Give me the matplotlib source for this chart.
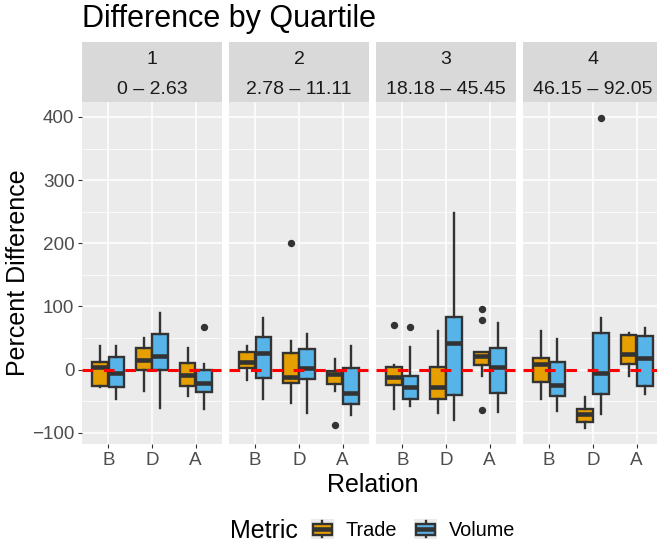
import matplotlib
matplotlib.use("Agg")
import matplotlib.pyplot as plt
from matplotlib.patches import Rectangle, Patch
from matplotlib.lines import Line2D
from matplotlib.legend_handler import HandlerBase

plt.rcParams['font.family'] = ['Liberation Sans', 'DejaVu Sans']

# ---------------- data ----------------
categories = ["B", "D", "A"]
quartiles = ["1", "2", "3", "4"]
quartile_ranges = ["0 – 2.63", "2.78 – 11.11", "18.18 – 45.45", "46.15 – 92.05"]
metrics = ["Trade", "Volume"]

# per quartile -> per category (B, D, A)
trade_whislo = [[-28, -34, -41], [-16, -52, -34], [-63, -68, -10], [-46, -93, -10]]
trade_q1     = [[-26, 0, -26],   [3, -21, -22],   [-24, -46, 8],   [-20, -82, 9]]
trade_med    = [[5, 15, -9],     [12, -11, -7],   [-12, -27, 22],  [9, -70, 25]]
trade_q3     = [[12, 35, 11],    [28, 27, -2],    [5, 5, 28],      [18, -63, 55]]
trade_whishi = [[37, 50, 34],    [38, 45, 17],    [8, 62, 28],     [61, -44, 58]]
trade_out    = [[[], [], []], [[], [200], [-87]], [[70], [], [96, 79, -64]], [[], [], []]]

volume_whislo = [[-47, -61, -62], [-46, -69, -71], [-58, -79, -67], [-65, -70, -38]]
volume_q1     = [[-27, 0, -35],   [-13, -14, -54], [-47, -40, -37], [-42, -39, -26]]
volume_med    = [[-5, 21, -21],   [26, 3, -37],    [-27, 43, 5],    [-25, -5, 19]]
volume_q3     = [[20, 57, 0],     [51, 32, 3],     [-10, 84, 34],   [12, 58, 53]]
volume_whishi = [[38, 90, 9],     [81, 56, 37],    [36, 248, 74],   [49, 81, 66]]
volume_out    = [[[], [], [67]], [[], [], []], [[67], [], []], [[], [399], []]]

# ---------------- style ----------------
colors = {"Trade": "#E69F00", "Volume": "#56B4E9"}
DARK = "#333333"
PANEL_BG = "#EBEBEB"
STRIP_BG = "#D9D9D9"
TICK_COL = "#4D4D4D"
BOX_LW = 1.7
MED_LW = 3.3

W, H = 657, 544
fig = plt.figure(figsize=(W / 100, H / 100), dpi=100)


def frect(x0, y0, x1, y1):
    return [x0 / W, 1 - y1 / H, (x1 - x0) / W, (y1 - y0) / H]


# y limits with 5% expansion (ggplot style)
allv = []
for arrs in (trade_whislo, trade_whishi, volume_whislo, volume_whishi):
    for row in arrs:
        allv += row
for outs in (trade_out, volume_out):
    for row in outs:
        for o in row:
            allv += o
lo, hi = min(allv), max(allv)
pad = 0.05 * (hi - lo)
ylim = (lo - pad, hi + pad)

series = {
    "Trade": (trade_whislo, trade_q1, trade_med, trade_q3, trade_whishi, trade_out),
    "Volume": (volume_whislo, volume_q1, volume_med, volume_q3, volume_whishi, volume_out),
}

panel_x = [82, 229, 376, 523]
panel_w = 140
top, bottom = 102, 444
dodge = 0.375
box_w = 0.36

for qi, q in enumerate(quartiles):
    x0 = panel_x[qi]
    ax = fig.add_axes(frect(x0, top, x0 + panel_w, bottom))
    ax.set_facecolor(PANEL_BG)
    for s in ax.spines.values():
        s.set_visible(False)
    ax.set_xlim(0.4, 3.6)
    ax.set_ylim(*ylim)
    ax.set_yticks([-100, 0, 100, 200, 300, 400])
    ax.set_yticks([-50, 50, 150, 250, 350], minor=True)
    ax.set_xticks([1, 2, 3])
    ax.set_xticklabels(categories)
    ax.grid(True, which="major", color="white", lw=1.1)
    ax.grid(True, which="minor", axis="y", color="white", lw=0.55)
    ax.set_axisbelow(True)
    ax.tick_params(axis="both", which="major", length=3, width=0.8, color=DARK,
                   labelcolor=TICK_COL, labelsize=13.6, pad=2.5)
    ax.tick_params(axis="y", which="minor", length=0)
    if qi > 0:
        ax.tick_params(axis="y", which="major", length=0, labelleft=False)

    for mi, m in enumerate(metrics):
        wl, q1, md, q3, wh, out = series[m]
        stats = []
        pos = []
        for ci in range(len(categories)):
            stats.append(dict(whislo=wl[qi][ci], q1=q1[qi][ci], med=md[qi][ci],
                              q3=q3[qi][ci], whishi=wh[qi][ci],
                              fliers=out[qi][ci]))
            pos.append(ci + 1 + (mi - 0.5) * dodge)
        ax.bxp(stats, positions=pos, widths=box_w, patch_artist=True,
               showcaps=False, manage_ticks=False,
               boxprops=dict(facecolor=colors[m], edgecolor=DARK, lw=BOX_LW),
               medianprops=dict(color=DARK, lw=MED_LW, solid_capstyle="butt"),
               whiskerprops=dict(color=DARK, lw=BOX_LW),
               flierprops=dict(marker="o", markerfacecolor=DARK, markeredgecolor=DARK,
                               markersize=4.3))

    ax.axhline(0, color="#FF0000", lw=2.2, dashes=(3.5, 3.5), zorder=6)

    # strip
    sax = fig.add_axes(frect(x0, 42, x0 + panel_w, top))
    sax.set_facecolor(STRIP_BG)
    sax.set_xticks([])
    sax.set_yticks([])
    for s in sax.spines.values():
        s.set_visible(False)
    cx = (x0 + panel_w / 2) / W
    fig.text(cx, 1 - 64 / H, q, ha="center", va="baseline", fontsize=14, color="#1A1A1A")
    fig.text(cx, 1 - 94.3 / H, quartile_ranges[qi], ha="center", va="baseline",
             fontsize=14, color="#1A1A1A")

# titles
fig.text(82 / W, 1 - 27.3 / H, "Difference by Quartile", ha="left", va="baseline",
         fontsize=22, color="black")
fig.text(372.5 / W, 1 - 491.7 / H, "Relation", ha="center", va="baseline",
         fontsize=18, color="black")
fig.text(25 / W, 1 - 273 / H, "Percent Difference", ha="center", va="baseline",
         rotation=90, rotation_mode="anchor", fontsize=18, color="black")


# legend
class BoxKey(HandlerBase):
    def create_artists(self, legend, orig_handle, xdescent, ydescent, width, height,
                       fontsize, trans):
        x0, y0 = -xdescent, -ydescent
        bg = Rectangle((x0, y0), width, height, facecolor=PANEL_BG, edgecolor="none",
                       transform=trans)
        cx = x0 + width / 2
        cy = y0 + height / 2
        bw = width * 0.8
        bh = height * 0.56
        wl = Line2D([cx, cx], [y0 + height * 0.08, y0 + height * 0.92], color=DARK,
                    lw=BOX_LW, transform=trans)
        box = Rectangle((cx - bw / 2, cy - bh / 2), bw, bh,
                        facecolor=orig_handle.get_facecolor(), edgecolor=DARK,
                        lw=BOX_LW, transform=trans)
        med = Line2D([cx - bw / 2, cx + bw / 2], [cy, cy], color=DARK, lw=MED_LW,
                     solid_capstyle="butt", transform=trans)
        return [bg, wl, box, med]


fig.text(230 / W, 1 - 538.3 / H, "Metric", ha="left", va="baseline", fontsize=18,
         color="black")
handles = [Patch(facecolor=colors[m], label=m) for m in metrics]
fig.legend(handles=handles, loc="center left", bbox_to_anchor=(311 / W, 1 - 529.5 / H),
           ncol=2, frameon=False, fontsize=14.3, handlelength=1.15, handleheight=1.15,
           handletextpad=0.6, columnspacing=0.85, borderpad=0, borderaxespad=0,
           handler_map={Patch: BoxKey()})

fig.savefig("out.png", dpi=100, facecolor="white")
